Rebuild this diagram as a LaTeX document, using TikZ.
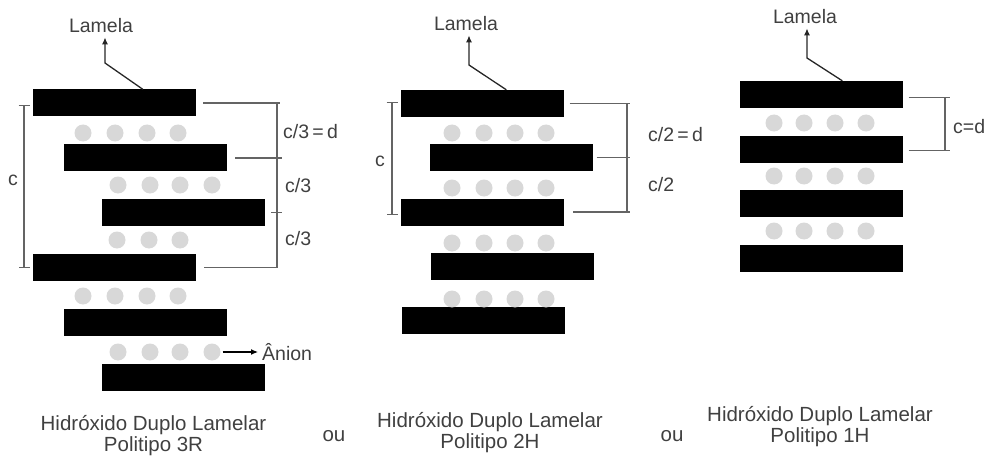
\documentclass[tikz,border=0pt]{standalone}
\usepackage{fontspec}
\setmainfont{Liberation Sans}
\usepackage{tikz}
\usetikzlibrary{calc,arrows.meta}

\definecolor{aniongray}{RGB}{216,216,216}
\definecolor{txtgray}{RGB}{64,64,64}
\definecolor{cotagray}{RGB}{100,100,100}

\tikzset{
  lamela/.style={fill=black, minimum width=163, minimum height=27, inner sep=0pt},
  ion/.style={circle, fill=aniongray, minimum size=17, inner sep=0pt},
  rotulo/.style={text=txtgray, font=\fontsize{19.5}{21}\selectfont, inner sep=0pt},
  legenda/.style={text=txtgray, font=\fontsize{20.5}{21}\selectfont, align=center, inner sep=0pt},
  cota/.style={draw=cotagray, line width=1.4},
  barra/.style={cota, {Bar[width=11pt]}-{Bar[width=11pt]}},
  seta/.style={line width=1.3, draw=black!85, -{Latex[length=7pt,width=6pt]}},
}

\begin{document}
\begin{tikzpicture}[x=1pt, y=-1pt]
    \useasboundingbox (0,0) rectangle (989,460);

    % Politipo 3R
    \foreach \x [count=\i] in {114.5,145.5,183,114.5,145.5,183}
        \node[lamela] (r\i) at (\x,{103+54.8*(\i-1)}) {};
    \foreach \y/\xs [count=\j] in {133/{83,115,147,178},185/{118,150,180,212},240/{117,149,180},296/{83,115,147,178},352/{118,150,180,212}}
        \foreach \x [count=\k] in \xs
            \node[ion] (a\j\k) at (\x,\y) {};

    \node[rotulo] (lam3r) at (101,26) {Lamela};
    \coordinate (k3r) at (105,63);
    \draw[seta, shorten >=4pt] ($(r1.north west)+(110,0)$) -- (k3r) -- (k3r |- lam3r.south);

    \node[rotulo, anchor=west] (anion) at (262,352) {Ânion};
    \draw[line width=1.2, -{Latex[length=7pt,width=6pt]}, shorten <=2pt, shorten >=4pt] (a54) -- (anion);

    \draw[barra] (24,105) -- (24,268);
    \node[rotulo] (c3r) at (13,180) {c};

    \coordinate (v3r) at (277,0);
    \draw[cota] (r1.east -| v3r) -- (r4.east -| v3r);
    \draw[cota] ($(r1.east)+(7,0)$) -- ($(r1.east -| v3r)+(3,0)$);
    \draw[cota] ($(r2.east)+(8,0)$) -- ($(r2.east -| v3r)+(5,0)$);
    \draw[cota] ($(r3.east -| v3r)+(-6,0)$) -- ($(r3.east -| v3r)+(5,0)$);
    \draw[cota] ($(r4.east)+(8,0)$) -- ($(r4.east -| v3r)+(0.7,0)$);
    \node[rotulo, anchor=west] (d3r1) at (283,132) {c/3\,=\,d};
    \node[rotulo, anchor=west] (d3r2) at (285,186) {c/3};
    \node[rotulo, anchor=west] (d3r3) at (285,239) {c/3};

    \node[legenda] (cap3r) at (153.5,435.5) {Hidróxido Duplo Lamelar\\Politipo 3R};
    \node[legenda] (ou1) at (334,436) {ou};

    % Politipo 2H
    \foreach \x [count=\i] in {482,511,482.5,512.5,483.5}
        \node[lamela] (h\i) at (\x,{103.5+54.25*(\i-1)}) {};
    \foreach \y [count=\j] in {133,188,243,299}
        \foreach \x [count=\k] in {452,484,515,546}
            \node[ion] (b\j\k) at (\x,\y) {};

    \node[rotulo] (lam2h) at (466,24) {Lamela};
    \coordinate (k2h) at (469,65);
    \draw[seta, shorten >=4pt] ($(h1.north west)+(106,0)$) -- (k2h) -- (k2h |- lam2h.south);

    \draw[barra] (392,102) -- (392,215);
    \node[rotulo] (c2h) at (380,161) {c};

    \coordinate (v2h) at (627,0);
    \draw[cota] (h1.east -| v2h) -- (h3.east -| v2h);
    \draw[cota] ($(h1.east)+(6,0)$) -- ($(h1.east -| v2h)+(3,0)$);
    \draw[cota] ($(h2.east)+(4,0)$) -- ($(h2.east -| v2h)+(3,0)$);
    \draw[cota] ($(h3.east)+(9,0)$) -- ($(h3.east -| v2h)+(3,0)$);
    \node[rotulo, anchor=west] (d2h1) at (648,135) {c/2\,=\,d};
    \node[rotulo, anchor=west] (d2h2) at (648,185) {c/2};

    \node[legenda] (cap2h) at (490,432.5) {Hidróxido Duplo Lamelar\\Politipo 2H};
    \node[legenda] (ou2) at (672,436) {ou};

    % Politipo 1H
    \foreach \i in {1,...,4}
        \node[lamela] (u\i) at (821,{94.5+54.7*(\i-1)}) {};
    \foreach \y [count=\j] in {123,176,231}
        \foreach \x [count=\k] in {774,804,835,866}
            \node[ion] (e\j\k) at (\x,\y) {};

    \node[rotulo] (lam1h) at (805,17) {Lamela};
    \coordinate (k1h) at (807,58);
    \draw[seta, shorten >=4pt] ($(u1.north west)+(103,0)$) -- (k1h) -- (k1h |- lam1h.south);

    \coordinate (v1h) at (945,0);
    \draw[cota] ($(u1.east -| v1h)+(0,3)$) -- ($(u2.east -| v1h)+(0,1)$);
    \draw[cota] ($(u1.east)+(6,3)$) -- ($(u1.east -| v1h)+(5,3)$);
    \draw[cota] ($(u2.east)+(6,1)$) -- ($(u2.east -| v1h)+(5,1)$);
    \node[rotulo, anchor=west] (d1h) at (953,127) {c=d};

    \node[legenda] (cap1h) at (820,426.5) {Hidróxido Duplo Lamelar\\Politipo 1H};
\end{tikzpicture}
\end{document}
